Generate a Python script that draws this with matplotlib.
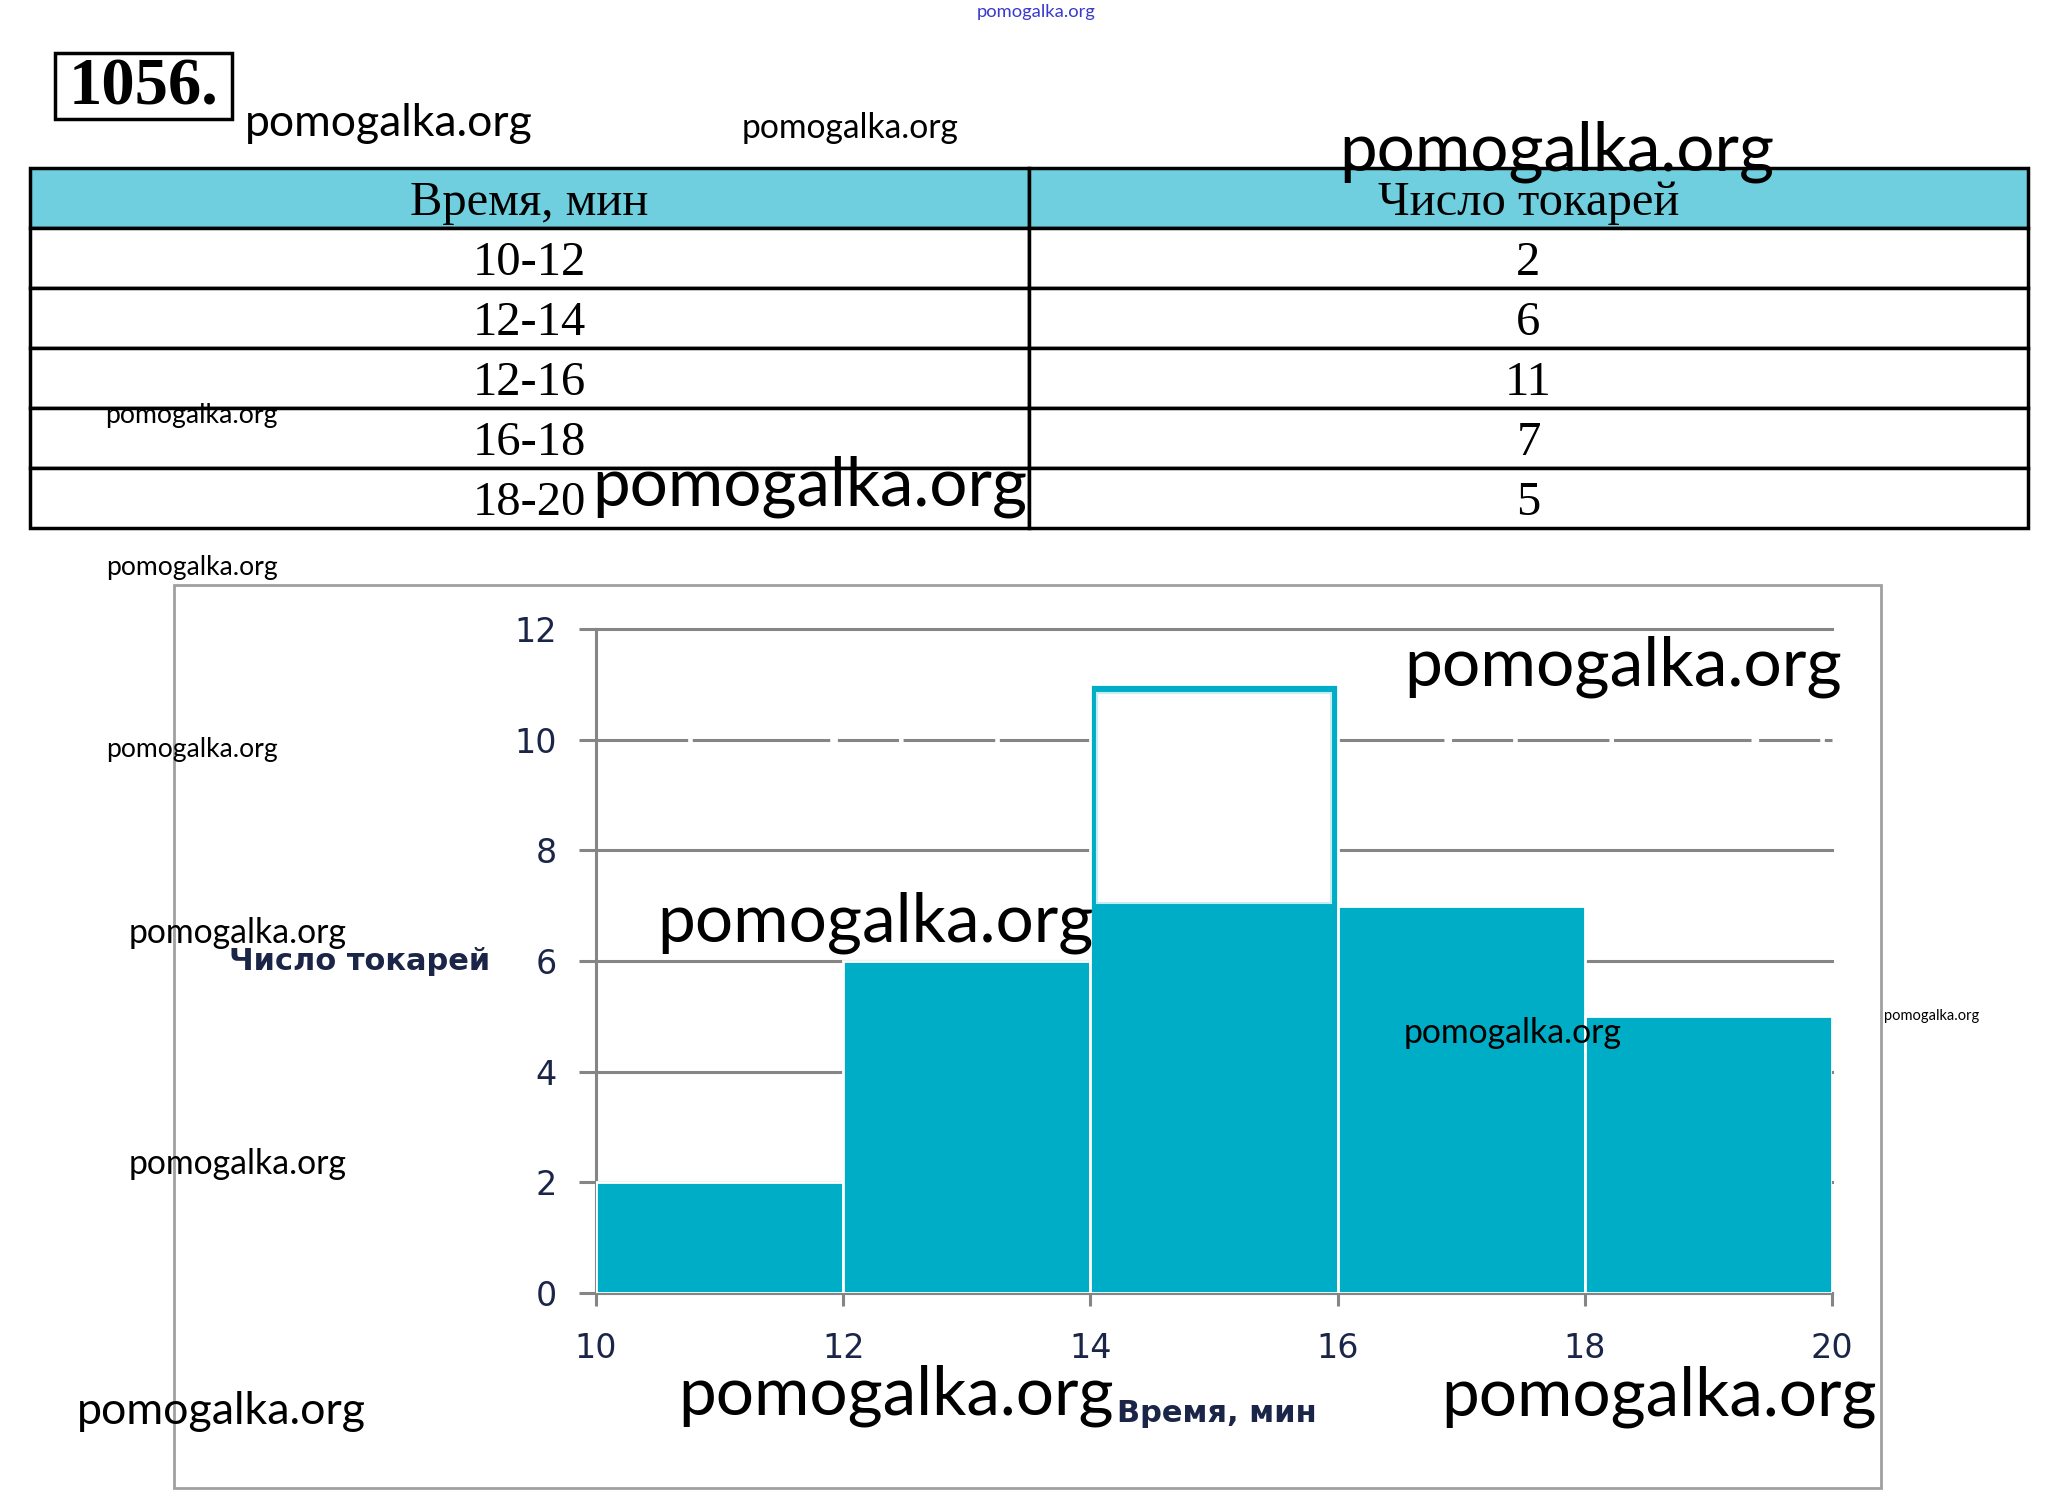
import matplotlib
matplotlib.use('Agg')
import matplotlib.pyplot as plt
from matplotlib.patches import Rectangle
from matplotlib.transforms import Affine2D

# данные задачи 1056
intervals = ['10-12', '12-14', '12-16', '16-18', '18-20']  # как в таблице
turners = [2, 6, 11, 7, 5]
bin_edges = [10, 12, 14, 16, 18, 20]
col_names = ['Время, мин', 'Число токарей']
y_ticks = [0, 2, 4, 6, 8, 10, 12]
x_ticks = [10, 12, 14, 16, 18, 20]

W, H = 2060, 1506
BAR = '#00adc6'
GRID = '#858585'
NAVY = '#1b2548'


def fx(x):
    return x / W


def fy(y):
    return 1 - y / H


fig = plt.figure(figsize=(W / 100, H / 100), dpi=100)
renderer = fig.canvas.get_renderer()

# номер задачи в рамке
fig.patches.append(Rectangle((fx(55), fy(119)), fx(232) - fx(55), fy(53) - fy(119),
                             transform=fig.transFigure, fill=False, ec='black', lw=2.5))
fig.text(fx(143), fy(88), '1056.', ha='center', va='center', fontsize=48,
         fontweight='bold', family='Liberation Serif')

# таблица
t_left, t_mid, t_right = 30, 1029, 2028
tax = fig.add_axes([fx(t_left), fy(528), fx(t_right) - fx(t_left), fy(168) - fy(528)])
tax.axis('off')
cells = [[a, str(b)] for a, b in zip(intervals, turners)]
w0 = (t_mid - t_left) / (t_right - t_left)
tbl = tax.table(cellText=cells, colLabels=col_names, cellLoc='center',
                colWidths=[w0, 1 - w0], bbox=[0, 0, 1, 1])
tbl.auto_set_font_size(False)
for (r, c), cell in tbl.get_celld().items():
    cell.set_linewidth(2.5)
    cell.set_edgecolor('black')
    txt = cell.get_text()
    txt.set_fontsize(35)
    txt.set_fontfamily('Liberation Serif')
    txt.set_transform(Affine2D().translate(0, -5))  # чуть ниже, как в оригинале
    if r == 0:
        cell.set_facecolor('#6fcfdf')

# рамка диаграммы
fig.patches.append(Rectangle((fx(174), fy(1488)), fx(1881) - fx(174), fy(585) - fy(1488),
                             transform=fig.transFigure, fill=False, ec='#a0a0a0', lw=2))

# гистограмма
ax = fig.add_axes([fx(596), fy(1293), fx(1832) - fx(596), fy(629) - fy(1293)])
widths = [b - a for a, b in zip(bin_edges[:-1], bin_edges[1:])]
ax.bar(bin_edges[:-1], turners, width=widths, align='edge', color=BAR,
       edgecolor='white', linewidth=2, zorder=3)
# стертая надпись на столбце 14-16
ax.add_patch(Rectangle((bin_edges[2] + 0.05, 7.05), widths[2] - 0.1, turners[2] - 7.2,
                       fc='white', ec='#c4ecf2', lw=1.5, zorder=4))

ax.set_xlim(bin_edges[0], bin_edges[-1])
ax.set_ylim(0, 12)
ax.set_xticks(x_ticks)
ax.set_yticks(y_ticks)
ax.set_axisbelow(True)
ax.yaxis.grid(True, color=GRID, lw=2.2)
for y, gl in zip(y_ticks, ax.get_ygridlines()):
    gl.set_clip_on(False)
    if y == 10:
        gl.set_linestyle((0, (30, 1.5, 45, 2.5, 20, 1.5)))
for s in ['top', 'right']:
    ax.spines[s].set_visible(False)
for s in ['left', 'bottom']:
    ax.spines[s].set_color(GRID)
    ax.spines[s].set_linewidth(2.2)
ax.tick_params(axis='y', length=12, width=2.2, color=GRID, pad=16,
               labelsize=24, labelcolor=NAVY)
ax.tick_params(axis='x', length=9, width=2.2, color=GRID, pad=19,
               labelsize=24, labelcolor=NAVY)

fig.text(fx(360), fy(961), 'Число токарей', ha='center', va='center', fontsize=22,
         fontweight='bold', color=NAVY)
fig.text(fx(1217), fy(1413), 'Время, мин', ha='center', va='center', fontsize=22,
         fontweight='bold', color=NAVY)

# водяные знаки: левый край, центр, ширина
marks = [(977, 12, 119, '#3a3acc'), (245, 124, 287, 'black'), (742, 128, 217, 'black'),
         (1339, 152, 434, 'black'), (105, 415, 172, 'black'), (592, 487, 434, 'black'),
         (106, 567, 171, 'black'), (1404, 667, 437, 'black'), (106, 750, 171, 'black'),
         (129, 933, 218, 'black'), (657, 923, 436, 'black'), (1404, 1033, 218, 'black'),
         (1884, 1016, 94, 'black'), (129, 1164, 218, 'black'), (77, 1412, 289, 'black'),
         (678, 1396, 435, 'black'), (1441, 1397, 435, 'black')]
for x, y, w, c in marks:
    t = fig.text(fx(x), fy(y), 'pomogalka.org', ha='left', va='center', fontsize=20,
                 family='Lato', color=c, zorder=10)
    bw = t.get_window_extent(renderer).width
    t.set_fontsize(20 * w / bw)

fig.savefig('out.png', dpi=100)
